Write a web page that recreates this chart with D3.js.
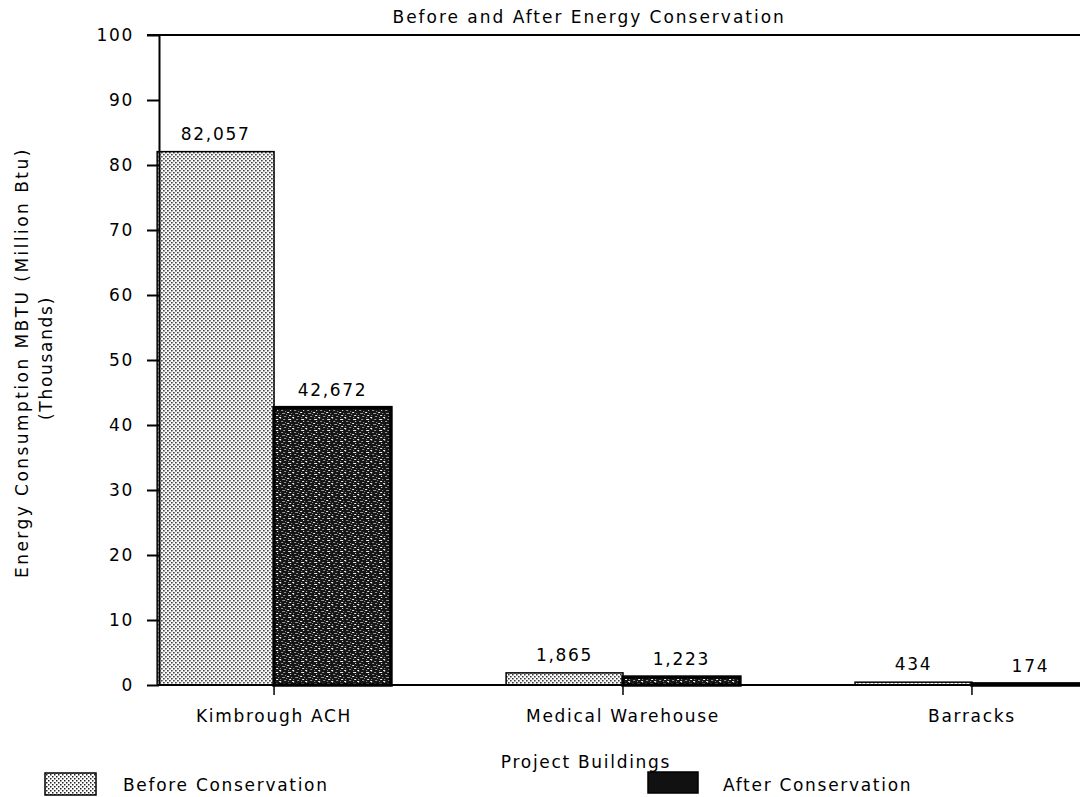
<!DOCTYPE html>
<html>
<head>
<meta charset="utf-8">
<script src="https://cdn.jsdelivr.net/npm/d3@7/dist/d3.min.js"></script>
<style>
  html, body { margin: 0; padding: 0; background: #fff; }
  svg text { font-family: "DejaVu Sans", sans-serif; font-size: 17px; fill: #000; letter-spacing: 1.7px; }
</style>
</head>
<body>
<svg id="chart" width="1080" height="797"></svg>
<script>
const categories = ["Kimbrough ACH", "Medical Warehouse", "Barracks"];
const seriesNames = ["Before Conservation", "After Conservation"];
const beforeValues = [82057, 1865, 434];
const afterValues = [42672, 1223, 174];
const yTicks = [0, 10, 20, 30, 40, 50, 60, 70, 80, 90, 100];
const title = "Before and After Energy Conservation";
const yLabel1 = "Energy Consumption MBTU (Million Btu)";
const yLabel2 = "(Thousands)";
const xLabel = "Project Buildings";

const rows = categories.map((c, i) => ({
  cat: c,
  vals: [
    { s: seriesNames[0], v: beforeValues[i] },
    { s: seriesNames[1], v: afterValues[i] }
  ]
}));

const svg = d3.select("#chart");
const defs = svg.append("defs");

// stipple pattern (before)
const p1 = defs.append("pattern").attr("id", "dots").attr("patternUnits", "userSpaceOnUse")
  .attr("width", 4).attr("height", 4);
p1.append("rect").attr("width", 4).attr("height", 4).attr("fill", "#fff");
p1.append("rect").attr("x", 0).attr("y", 0).attr("width", 1.5).attr("height", 1.5).attr("fill", "#222");
p1.append("rect").attr("x", 2).attr("y", 2).attr("width", 1.5).attr("height", 1.5).attr("fill", "#222");

// dark mottled pattern (after)
const p2 = defs.append("pattern").attr("id", "speck").attr("patternUnits", "userSpaceOnUse")
  .attr("width", 13).attr("height", 11);
p2.append("rect").attr("width", 13).attr("height", 11).attr("fill", "#151515");
const specks = [[1,1,3,1],[6,0,1,1],[9,1,2,1],[3,3,1,1],[7,3,2,1],[11,4,1,1],[0,5,2,1],
  [4,6,1,1],[8,6,3,1],[2,8,2,1],[6,8,1,1],[10,9,2,1],[5,10,2,1],[12,7,1,1],[1,10,1,1]];
specks.forEach((r, i) => {
  p2.append("rect").attr("x", r[0]).attr("y", r[1]).attr("width", r[2]).attr("height", r[3])
    .attr("fill", i % 3 === 0 ? "#f0f0f0" : "#9a9a9a");
});

const fills = { "Before Conservation": "url(#dots)", "After Conservation": "url(#speck)" };

const x = d3.scaleBand().domain(categories).range([42, 1204]).paddingInner(0.33).paddingOuter(0.33);
const xs = d3.scaleBand().domain(seriesNames).range([0, x.bandwidth()]);
const y = d3.scaleLinear().domain([0, 100]).range([685, 35]);
const axisX = 159, plotRight = 1080;

// bars
const g = svg.append("g");
const groups = g.selectAll("g.cat").data(rows).join("g")
  .attr("transform", d => `translate(${x(d.cat)},0)`);

groups.selectAll("rect").data(d => d.vals).join("rect")
  .attr("x", d => xs(d.s))
  .attr("y", d => y(d.v / 1000))
  .attr("width", xs.bandwidth())
  .attr("height", d => y(0) - y(d.v / 1000))
  .attr("fill", d => fills[d.s])
  .attr("stroke", "#000")
  .attr("stroke-width", d => d.s === seriesNames[1] ? 3.5 : 1.5);

groups.selectAll("text.val").data(d => d.vals).join("text")
  .attr("class", "val")
  .attr("x", d => xs(d.s) + xs.bandwidth() / 2)
  .attr("y", d => y(d.v / 1000) - 12)
  .attr("text-anchor", "middle")
  .text(d => d3.format(",")(d.v));

// y axis
const yAxis = d3.axisLeft(y).tickValues(yTicks).tickSize(12).tickPadding(13).tickSizeOuter(0);
const ya = svg.append("g").attr("transform", `translate(${axisX},0)`).call(yAxis);
ya.select(".domain").attr("stroke", "#000").attr("stroke-width", 2);
ya.selectAll(".tick line").attr("stroke", "#000").attr("stroke-width", 2);
ya.selectAll(".tick text").style("font-family", "DejaVu Sans").style("font-size", "17px").attr("fill", "#000");

// top frame line
svg.append("line").attr("x1", axisX - 12).attr("x2", plotRight).attr("y1", y(100)).attr("y2", y(100))
  .attr("stroke", "#000").attr("stroke-width", 2);

// x axis
svg.append("line").attr("x1", axisX).attr("x2", plotRight).attr("y1", y(0)).attr("y2", y(0))
  .attr("stroke", "#000").attr("stroke-width", 2);
const xa = svg.append("g");
xa.selectAll("line").data(categories).join("line")
  .attr("x1", d => x(d) + x.bandwidth() / 2).attr("x2", d => x(d) + x.bandwidth() / 2)
  .attr("y1", y(0)).attr("y2", y(0) + 10).attr("stroke", "#000").attr("stroke-width", 1.5);
xa.selectAll("text").data(categories).join("text")
  .attr("x", d => x(d) + x.bandwidth() / 2).attr("y", 722)
  .attr("text-anchor", "middle").text(d => d);

// title
svg.append("text").attr("x", 589).attr("y", 23).attr("text-anchor", "middle")
  .attr("textLength", 393).attr("lengthAdjust", "spacing").text(title);

// axis titles
svg.append("text").attr("transform", "translate(28,363) rotate(-90)")
  .attr("text-anchor", "middle").attr("textLength", 430).attr("lengthAdjust", "spacing").text(yLabel1);
svg.append("text").attr("transform", "translate(52,358) rotate(-90)")
  .attr("text-anchor", "middle").text(yLabel2);
svg.append("text").attr("x", 586).attr("y", 768).attr("text-anchor", "middle").text(xLabel);

// legend
const legend = [
  { name: seriesNames[0], sx: 45, sy: 773, w: 51, h: 22, tx: 123 },
  { name: seriesNames[1], sx: 648, sy: 772, w: 50, h: 21, tx: 723 }
];
const lg = svg.append("g");
lg.selectAll("rect").data(legend).join("rect")
  .attr("x", d => d.sx).attr("y", d => d.sy).attr("width", d => d.w).attr("height", d => d.h)
  .attr("fill", d => d.name === seriesNames[1] ? "#111" : fills[d.name])
  .attr("stroke", "#000").attr("stroke-width", 1.5);
lg.selectAll("text").data(legend).join("text")
  .attr("x", d => d.tx).attr("y", 791).text(d => d.name);
</script>
</body>
</html>
